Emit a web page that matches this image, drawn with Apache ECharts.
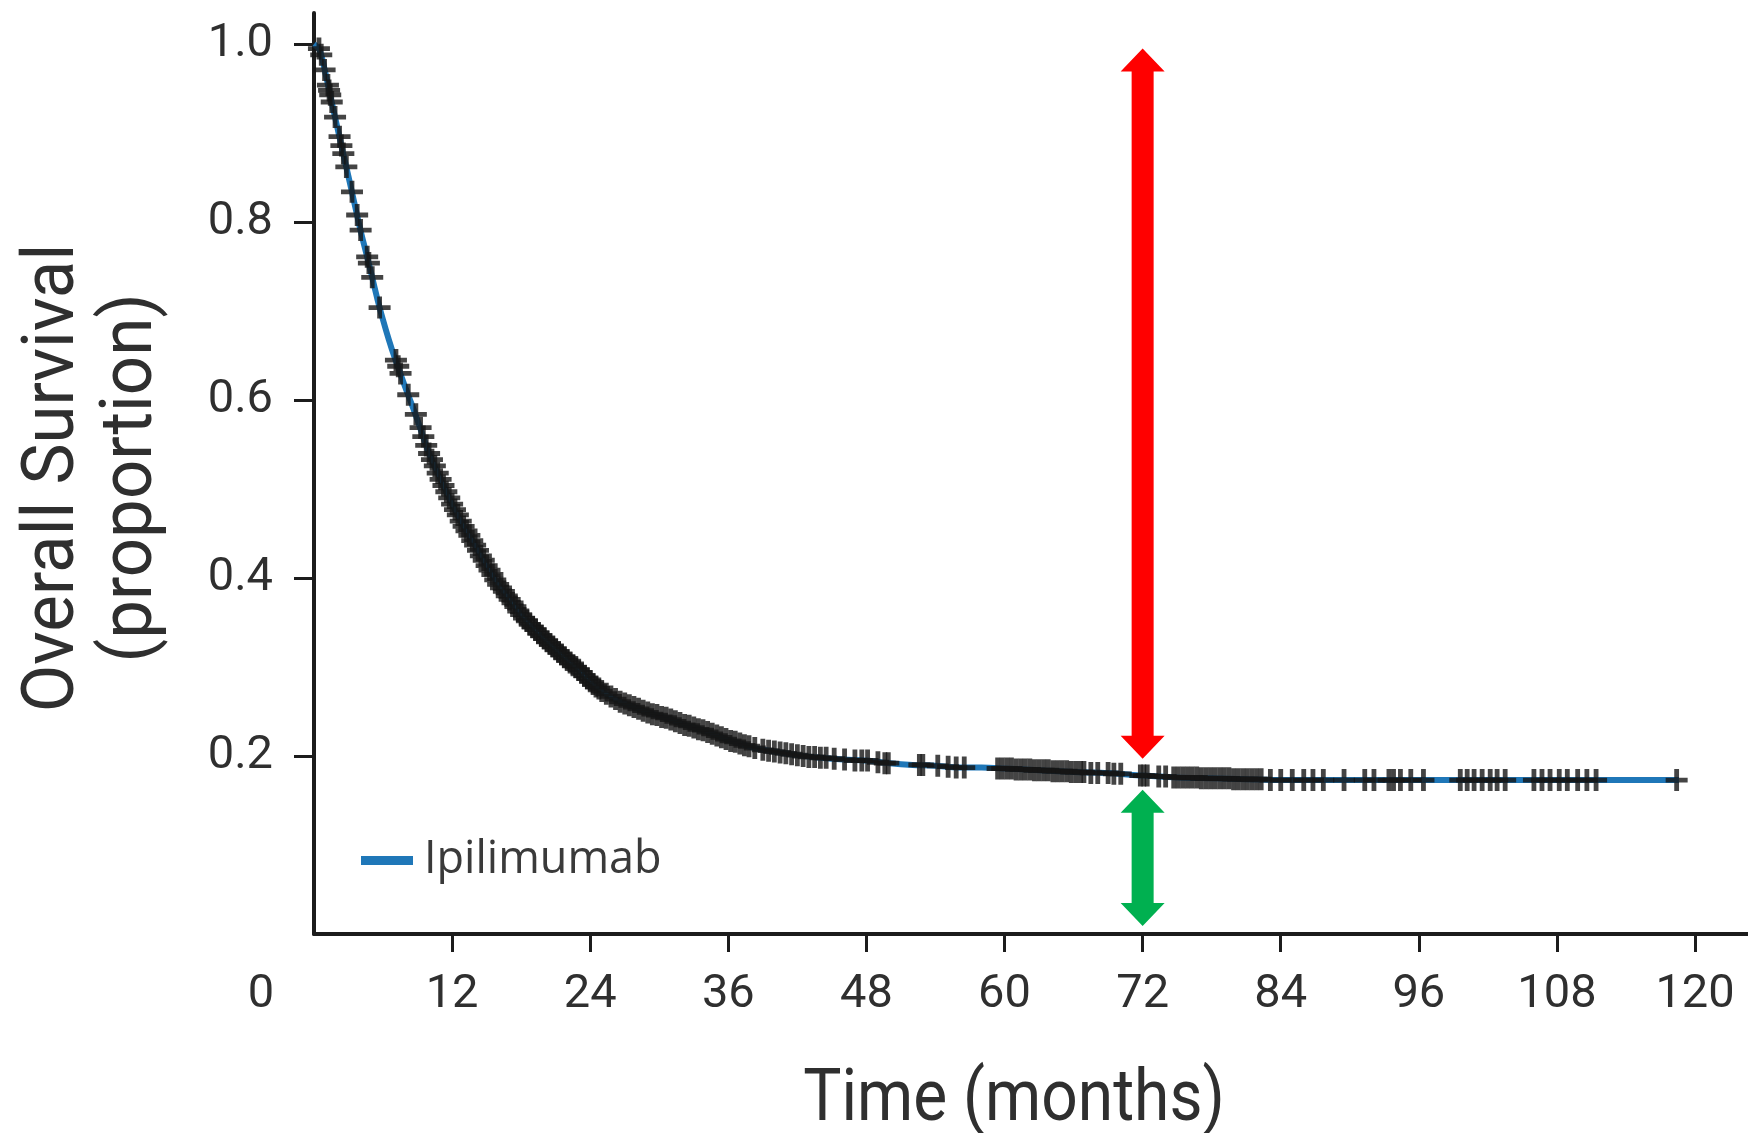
<!DOCTYPE html>
<html>
<head>
<meta charset="utf-8">
<script src="https://cdn.jsdelivr.net/npm/echarts@6/dist/echarts.min.js"></script>
<style>
html,body{margin:0;padding:0;background:#fff;}
#chart{width:1748px;height:1133px;}
</style>
</head>
<body>
<div id="chart"></div>
<script>
// ---- data ----
const xTickValues = [0, 12, 24, 36, 48, 60, 72, 84, 96, 108, 120];
const yTickValues = [0.2, 0.4, 0.6, 0.8, 1.0];
const xTitle = 'Time (months)';
const yTitle = 'Overall Survival\n(proportion)';
const seriesName = 'Ipilimumab';

const curveTime = [0,0.5,1,1.5,2,2.5,3,3.5,4,4.5,5,5.5,6,6.5,7,7.5,8,8.5,9,
  10,11,12,13,14,15,16,17,18,19,20,21,22,23,24,25,26,27,28,29,30,31,32,33,34,35,36,37,38,39,40,
  42,44,46,48,50,52,54,56,58,60,63,66,69,72,75,78,81,84,118.6];
const curveSurv = [1.0,0.993,0.967,0.937,0.908,0.879,0.851,0.822,0.793,0.767,0.741,0.714,0.69,0.668,0.648,0.63,0.612,0.595,0.577,
  0.54,0.511,0.483,0.458,0.437,0.414,0.393,0.376,0.359,0.345,0.332,0.320,0.308,0.297,0.284,0.273,0.265,0.259,0.254,0.249,0.245,0.241,0.236,0.232,0.228,0.223,0.218,0.214,0.21,0.207,0.205,
  0.201,0.198,0.196,0.195,0.192,0.19,0.189,0.187,0.187,0.186,0.184,0.182,0.181,0.178,0.176,0.175,0.174,0.173,0.173];

// censored observations: [months, survival]
const censorEarly = [[0.43,0.995],[0.63,0.988],[0.92,0.971],[1.21,0.954],[1.31,0.948],[1.41,0.943],[1.54,0.935],[1.83,0.918],
  [2.22,0.896],[2.38,0.886],[2.55,0.877],[2.81,0.862],[3.3,0.834],[3.75,0.808],[4.05,0.791],[4.62,0.761],[4.77,0.754],
  [5.06,0.738],[5.7,0.704],[7.12,0.645],[7.32,0.638],[7.52,0.63],[8.19,0.606],[8.85,0.584],[9.26,0.569]];
const censorDense = [[9.5,0.559],[9.75,0.549],[10,0.540],[10.25,0.533],[10.5,0.526],[10.75,0.518],[11,0.511],[11.25,0.504],
  [11.5,0.497],[11.75,0.490],[12,0.483],[12.25,0.477],[12.5,0.471],[12.75,0.464],[13,0.458],[13.25,0.453],[13.5,0.448],
  [13.75,0.442],[14,0.437],[14.25,0.431],[14.5,0.425],[14.75,0.420],[15,0.414],[15.25,0.409],[15.5,0.404],[15.75,0.398],
  [16,0.393],[16.25,0.389],[16.5,0.385],[16.75,0.380],[17,0.376],[17.25,0.372],[17.5,0.368],[17.75,0.363],[18,0.359],
  [18.25,0.355],[18.5,0.352],[18.75,0.348],[19,0.345],[19.25,0.342],[19.5,0.338],[19.75,0.335],[20,0.332],[20.25,0.329],
  [20.5,0.326],[20.75,0.323],[21,0.320],[21.25,0.317],[21.5,0.314],[21.75,0.311],[22,0.308],[22.25,0.305],[22.5,0.302],
  [22.75,0.300],[23,0.297],[23.25,0.294],[23.5,0.290],[23.75,0.287],[24,0.284],[24.25,0.281],[24.5,0.278],[24.75,0.276],[25,0.273]];
const censorMid = [[25.4,0.270],[25.8,0.267],[26.2,0.264],[26.6,0.261],[27,0.259],[27.4,0.257],[27.8,0.255],[28.2,0.253],
  [28.6,0.251],[29,0.249],[29.4,0.247],[29.8,0.246],[30.2,0.244],[30.6,0.243],[31,0.241],[31.4,0.239],[31.8,0.237],[32.2,0.235],
  [32.6,0.234],[33,0.232],[33.4,0.230],[33.8,0.229],[34.2,0.227],[34.6,0.225],[35,0.223],[35.4,0.221],[35.8,0.219],[36.2,0.217],
  [36.6,0.216],[37,0.214],[37.4,0.212],[37.8,0.211],[38.3,0.209],[39,0.207],[39.5,0.206],[40,0.205],[40.5,0.204],[41,0.203],
  [41.5,0.202],[42,0.201],[42.5,0.200],[43,0.199],[43.5,0.199],[44,0.198],[44.5,0.198],[45.2,0.197],[46.1,0.196],[47,0.195],
  [47.6,0.195],[48.1,0.195],[49,0.193],[49.6,0.192],[49.9,0.192],[52.6,0.190],[52.9,0.190],[54.2,0.189],[55.1,0.188],
  [55.8,0.187],[56.5,0.187],[59.4,0.186]];
const censorLate = [[59.8,0.186],[60.2,0.186],[60.6,0.186],[61,0.185],[61.4,0.185],[61.8,0.185],[62.2,0.185],[62.6,0.184],
  [63,0.184],[63.4,0.184],[63.8,0.184],[64.2,0.183],[64.6,0.183],[65,0.183],[65.4,0.183],[65.8,0.182],[66.2,0.182],[66.6,0.182],
  [66.9,0.182],[67.5,0.181],[68.1,0.181],[69,0.181],[69.5,0.180],[70.1,0.180],[71.8,0.178],[72.1,0.178],[72.4,0.178],[73.4,0.177],
  [74,0.177],[74.7,0.176],[75.1,0.176],[75.5,0.176],[75.9,0.176],[76.3,0.176],[76.7,0.176],[77.1,0.175],[77.5,0.175],[77.9,0.175],
  [78.3,0.175],[78.7,0.175],[79.1,0.175],[79.5,0.175],[79.9,0.174],[80.3,0.174],[80.7,0.174],[81.1,0.174],[81.5,0.174],[81.9,0.174],
  [82.3,0.174],[83.1,0.173],[84,0.173],[85,0.173],[86,0.173],[86.8,0.173],[87.7,0.173],[89.5,0.173],[91.3,0.173],[92.1,0.173],
  [93.4,0.173],[93.8,0.173],[94.4,0.173],[95.3,0.173],[96.4,0.173],[99.6,0.173],[100.2,0.173],[100.8,0.173],[101.5,0.173],
  [102.2,0.173],[102.8,0.173],[103.5,0.173],[106,0.173],[106.7,0.173],[107.4,0.173],[108.2,0.173],[108.9,0.173],[109.8,0.173],
  [110.6,0.173],[111.4,0.173],[118.4,0.173]];

// double-headed annotation arrows: [month, top tip, bottom tip]
const arrowTime = [72, 72];
const arrowTop = [0.995, 0.162];
const arrowBottom = [0.197, 0.009];

// ---- styles ----
const arrowColors = ['#ff0000', '#00b050'];
const axisColor = '#1c1c1c';
const labelColor = '#2f2f2f';
const lineColor = '#1f77b8';

const curveData = curveTime.map((t, i) => [t, curveSurv[i]]);
const censorData = censorEarly.concat(censorDense, censorMid, censorLate);
const arrowData = arrowTime.map((t, i) => [t, arrowTop[i], arrowBottom[i]]);

const plusPath = 'path://M-2.4,-11H2.4V-2.4H11V2.4H2.4V11H-2.4V2.4H-11V-2.4H-2.4Z';

const chart = echarts.init(document.getElementById('chart'), null, {renderer: 'canvas'});
chart.setOption({
  animation: false,
  backgroundColor: '#ffffff',
  grid: {left: 314, right: 0, top: 13, bottom: 199, containLabel: false},
  legend: {
    data: [seriesName],
    left: 356, top: 833,
    icon: 'rect', itemWidth: 52, itemHeight: 9,
    textStyle: {fontFamily: "'Open Sans', sans-serif", fontSize: 45, color: '#3a3a3a', padding: [0, 0, 0, 6]}
  },
  graphic: [
    {
      type: 'text', x: 1014, y: 1102, scaleX: 0.89, silent: true,
      style: {text: xTitle, font: '72px Roboto', fill: labelColor, textAlign: 'center', textVerticalAlign: 'middle'}
    },
    {
      type: 'text', x: 94, y: 478, rotation: Math.PI / 2, scaleX: 0.96, silent: true,
      style: {text: yTitle, font: '72px Roboto', lineHeight: 78, fill: labelColor, textAlign: 'center', textVerticalAlign: 'middle'}
    }
  ],
  xAxis: {
    type: 'value', min: 0, max: 124.6, interval: 12,
    axisLine: {show: true, onZero: false, lineStyle: {color: axisColor, width: 4}},
    axisTick: {show: true, length: 18, lineStyle: {color: axisColor, width: 3}, customValues: xTickValues.slice(1)},
    axisLabel: {
      customValues: xTickValues, margin: 38, fontFamily: 'Roboto', fontSize: 47, color: labelColor,
      formatter: v => v === 0 ? '{z|0}' : String(v),
      rich: {z: {fontFamily: 'Roboto', fontSize: 47, color: labelColor, padding: [0, 106, 0, 0]}}
    },
    splitLine: {show: false}
  },
  yAxis: {
    type: 'value', min: 0, max: 1.035,
    axisLine: {show: true, onZero: false, lineStyle: {color: axisColor, width: 4}},
    axisTick: {show: true, length: 20, lineStyle: {color: axisColor, width: 3}, customValues: yTickValues},
    axisLabel: {customValues: yTickValues, margin: 41, fontFamily: 'Roboto', fontSize: 47, color: labelColor,
      formatter: v => v.toFixed(1)},
    splitLine: {show: false}
  },
  series: [
    {
      name: seriesName, type: 'line', data: curveData, showSymbol: false, symbol: 'none',
      smooth: 0.3, lineStyle: {color: lineColor, width: 6}, itemStyle: {color: lineColor}, z: 2
    },
    {
      name: 'censored', type: 'scatter', data: censorData, symbol: plusPath, symbolSize: 22,
      itemStyle: {color: '#151515'}, silent: true, z: 3
    },
    {
      name: 'arrows', type: 'custom', data: arrowData, silent: true, z: 4, clip: false,
      renderItem: function (params, api) {
        const top = api.coord([api.value(0), api.value(1)]);
        const bot = api.coord([api.value(0), api.value(2)]);
        const cx = top[0], yt = top[1], yb = bot[1];
        const hw = 22, sw = 11, hl = 23;
        return {
          type: 'polygon',
          shape: {points: [[cx, yt], [cx + hw, yt + hl], [cx + sw, yt + hl], [cx + sw, yb - hl], [cx + hw, yb - hl],
            [cx, yb], [cx - hw, yb - hl], [cx - sw, yb - hl], [cx - sw, yt + hl], [cx - hw, yt + hl]]},
          style: {fill: arrowColors[params.dataIndex]}
        };
      }
    }
  ]
});
</script>
</body>
</html>
